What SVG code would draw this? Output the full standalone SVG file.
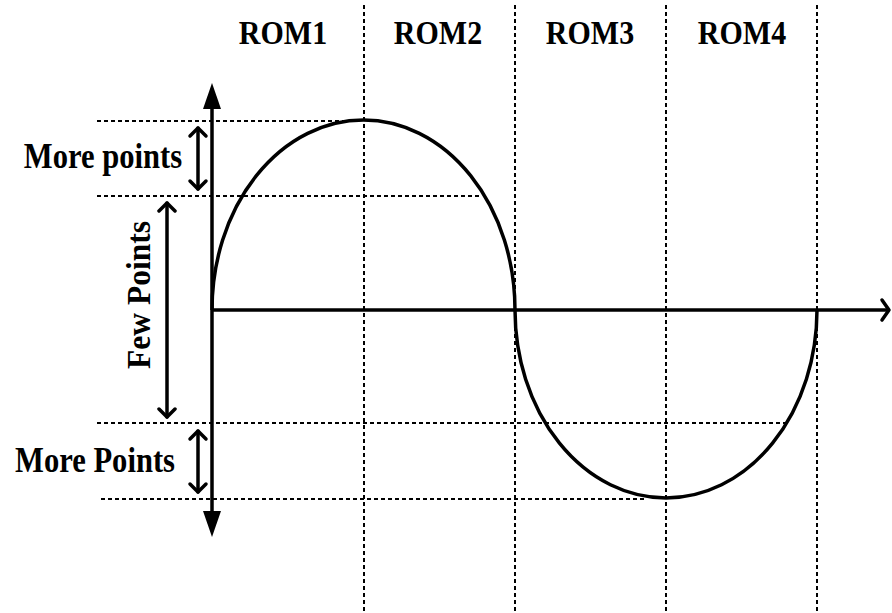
<svg xmlns="http://www.w3.org/2000/svg" width="892" height="613" viewBox="0 0 892 613">
<defs>
<style>
.dash{stroke:#000;stroke-width:2;stroke-dasharray:4 3;fill:none}
.axis{stroke:#000;stroke-width:3.5;fill:none}
.curve{stroke:#000;stroke-width:3.5;fill:none}
.dbl{stroke:#000;stroke-width:3.5;fill:none;stroke-linecap:round;stroke-linejoin:round}
.lbl{font-family:"Liberation Serif","Times New Roman",serif;font-weight:bold;font-size:30px;fill:#000}
</style>
</defs>
<rect width="892" height="613" fill="#fff"/>
<g id="grid">
<line class="dash" x1="364" y1="5" x2="364" y2="613"/>
<line class="dash" x1="515" y1="5" x2="515" y2="613"/>
<line class="dash" x1="666" y1="5" x2="666" y2="613"/>
<line class="dash" x1="817" y1="5" x2="817" y2="613"/>
<line class="dash" x1="97" y1="121" x2="345" y2="121"/>
<line class="dash" x1="97" y1="196" x2="482" y2="196"/>
<line class="dash" x1="97" y1="423" x2="790" y2="423"/>
<line class="dash" x1="101" y1="499" x2="645" y2="499"/>
</g>
<g id="labels">
<text class="lbl" transform="translate(283,44) scale(1,1.15)" text-anchor="middle">ROM1</text>
<text class="lbl" transform="translate(438,44) scale(1,1.15)" text-anchor="middle">ROM2</text>
<text class="lbl" transform="translate(590,44) scale(1,1.15)" text-anchor="middle">ROM3</text>
<text class="lbl" transform="translate(742,44) scale(1,1.15)" text-anchor="middle">ROM4</text>
</g>
<g id="axes">
<line class="axis" x1="212" y1="105" x2="212" y2="515"/>
<path d="M212,83 L221,109 L203,109 Z" fill="#000"/>
<path d="M212,537 L221,511 L203,511 Z" fill="#000"/>
<line class="axis" x1="212" y1="310" x2="888" y2="310"/>
<path class="dbl" d="M882,300 L889,310 L882,320"/>
</g>
<g id="waveform">
<path class="curve" d="M212,310 A151.5,190 0 0 1 515,310 A151,188 0 0 0 817,310"/>
</g>
<g id="more-points-top">
<line class="dbl" x1="198" y1="128" x2="198" y2="189"/>
<path class="dbl" d="M190,136 L198,128 L206,136 M190,181 L198,189 L206,181"/>
<text class="lbl" transform="translate(103,168) scale(1.02,1.18)" text-anchor="middle">More points</text>
</g>
<g id="few-points">
<line class="dbl" x1="167" y1="203" x2="167" y2="417"/>
<path class="dbl" d="M159,211 L167,203 L175,211 M159,409 L167,417 L175,409"/>
<text class="lbl" transform="translate(150,295) rotate(-90) scale(1.05,1.15)" text-anchor="middle">Few Points</text>
</g>
<g id="more-points-bottom">
<line class="dbl" x1="198" y1="431" x2="198" y2="492"/>
<path class="dbl" d="M190,439 L198,431 L206,439 M190,484 L198,492 L206,484"/>
<text class="lbl" transform="translate(95,472) scale(1.02,1.18)" text-anchor="middle">More Points</text>
</g>
</svg>
